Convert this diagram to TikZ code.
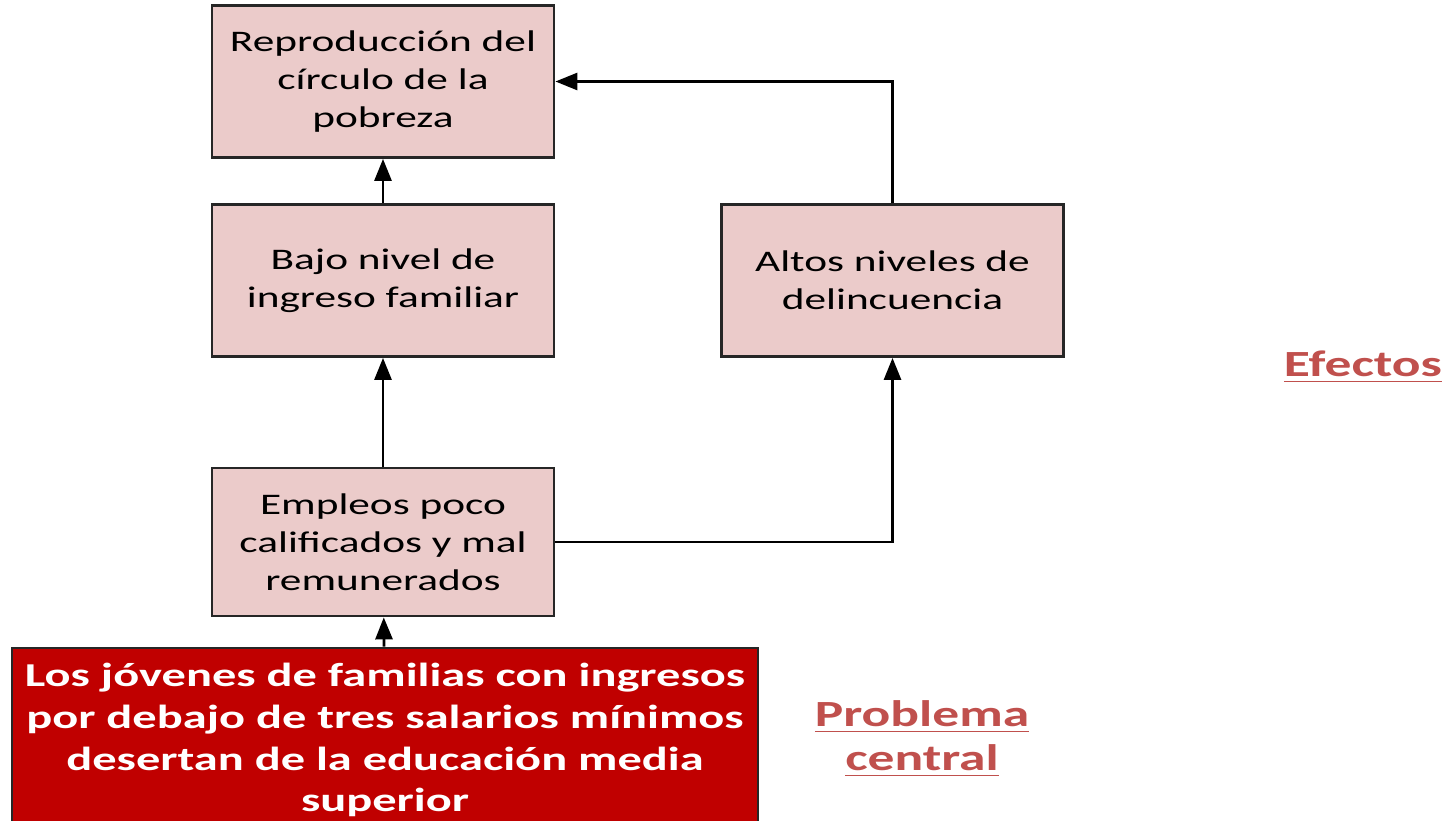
\documentclass[tikz,border=0pt]{standalone}
\usepackage{fontspec}
\setmainfont{Carlito}[FakeStretch=1.45]
\usetikzlibrary{arrows.meta}
\definecolor{boxpink}{HTML}{EBCBCA}
\definecolor{probred}{HTML}{C00000}
\definecolor{labelred}{HTML}{C0504D}

\begin{document}
\begin{tikzpicture}[
	efecto/.style={draw=black!85, fill=boxpink, line width=0.8pt, minimum width=3.42cm, minimum height=1.52cm, align=center, font=\fontsize{8.5}{10.8}\selectfont},
	problema/.style={draw=black!85, fill=probred, text=white, line width=0.8pt, minimum width=7.46cm, minimum height=1.84cm, align=center, font=\bfseries\fontsize{9.5}{11.9}\selectfont},
	etiqueta/.style={text=labelred, align=center, font=\bfseries\fontsize{10.5}{12.5}\selectfont},
	flecha/.style={-{Triangle[length=2.2mm,width=1.7mm]}, line width=0.8pt, draw=black}
]

	\useasboundingbox (0,0) rectangle (14.56,-8.20);

	% effect boxes
	\node[efecto] (repro) at (3.83,-0.815) {Reproducción del\\círculo de la\\pobreza};
	\node[efecto] (bajo) at (3.83,-2.805) {Bajo nivel de\\ingreso familiar};
	\node[efecto] (altos) at (8.925,-2.805) {Altos niveles de\\delincuencia};
	\node[efecto, minimum height=1.48cm] (empleos) at (3.83,-5.42) {Empleos poco\\calificados y mal\\remunerados};

	% central problem
	\node[problema] (central) at (3.85,-7.40) {Los jóvenes de familias con ingresos\\por debajo de tres salarios mínimos\\desertan de la educación media\\superior};

	% side labels
	\node[etiqueta] (efectos) at (13.63,-3.67) {\underline{Efectos}};
	\node[etiqueta] (probl) at (9.22,-7.39) {\underline{Problema}\\\underline{central}};

	% arrows
	\draw[flecha] (bajo) -- (repro);
	\draw[flecha] (empleos) -- (bajo);
	\draw[flecha] (central) -- (empleos);
	\draw[flecha] (empleos.east) -| (altos.south);
	\draw[flecha] (altos.north) |- (repro.east);

\end{tikzpicture}
\end{document}
